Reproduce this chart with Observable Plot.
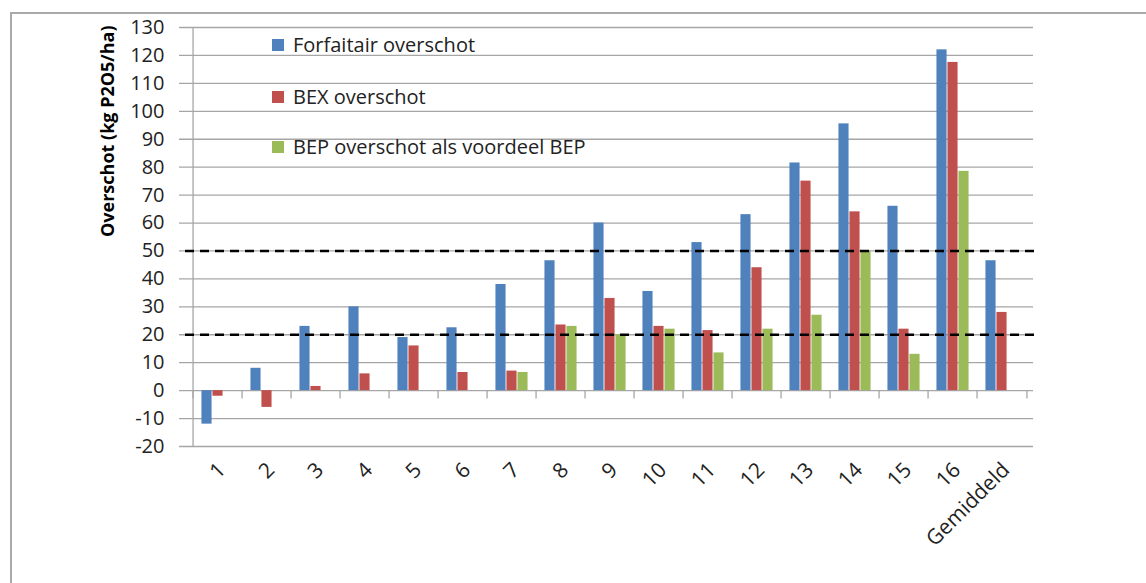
<!DOCTYPE html>
<html><head><meta charset="utf-8">
<script src="https://cdn.jsdelivr.net/npm/d3@7"></script>
<script src="https://cdn.jsdelivr.net/npm/@observablehq/plot@0.6"></script>
<style>
body{margin:0;background:#fff;}
#wrap{position:relative;width:1146px;height:583px;overflow:hidden;font-family:"Open Sans",sans-serif;background:#fff;}
#chart{position:absolute;left:0;top:0;}
#border{position:absolute;left:10px;top:12px;width:1200px;height:700px;border-left:2px solid #a9a9a9;border-top:2px solid #a9a9a9;pointer-events:none;}
.leg{position:absolute;left:272px;font-size:20px;line-height:24px;color:#222;display:flex;align-items:center;white-space:nowrap;}
.leg .sw{display:inline-block;width:12px;height:12px;margin-right:9px;}
</style></head><body>
<div id="wrap"><div id="chart"></div><div id="legend"></div><div id="border"></div></div>
<script>
// ---- data ----
const categories = ["1","2","3","4","5","6","7","8","9","10","11","12","13","14","15","16","Gemiddeld"];
const forfaitair = [-12, 8, 23, 30, 19, 22.5, 38, 46.5, 60, 35.5, 53, 63, 81.5, 95.5, 66, 122, 46.5];
const bex        = [-2, -6, 1.5, 6, 16, 6.5, 7, 23.5, 33, 23, 21.5, 44, 75, 64, 22, 117.5, 28];
const bep        = [null, null, null, null, null, null, 6.5, 23, 20, 22, 13.5, 22, 27, 50, 13, 78.5, null];
const seriesNames = ["Forfaitair overschot", "BEX overschot", "BEP overschot als voordeel BEP"];
const seriesColors = ["#4f81bd", "#c0504d", "#9bbb59"];
const thresholds = [20, 50];
const yTicks = [-20,-10,0,10,20,30,40,50,60,70,80,90,100,110,120,130];
const yTitle = "Overschot (kg P2O5/ha)";

// ---- layout ----
const W = 1146, H = 583, mL = 185, mR = 113, mT = 27, mB = 137;
const bw = (W - mL - mR) / categories.length;
const barW = 11;
const outer = (bw - 3 * barW) / 2;

const rows = categories.map((c, i) => ({cat: c, v0: forfaitair[i], v1: bex[i], v2: bep[i]}));
const grid = "#a6a6a6";

const barMarks = [0,1,2].map(i =>
  Plot.barY(rows.filter(d => d["v" + i] != null), {
    x: "cat", y: "v" + i, fill: seriesColors[i],
    insetLeft: outer + i * barW, insetRight: bw - outer - (i + 1) * barW
  })
);

const chart = Plot.plot({
  width: W, height: H,
  marginLeft: mL, marginRight: mR, marginTop: mT, marginBottom: mB,
  style: {fontFamily: "Open Sans, sans-serif", color: "#222", background: "transparent"},
  x: {domain: categories, padding: 0, label: null},
  y: {domain: [-20, 130], label: null},
  marks: [
    Plot.ruleY(yTicks, {stroke: grid, strokeWidth: 1.3, insetLeft: -6}),
    Plot.ruleX([categories[0]], {dx: -bw / 2, y1: -20, y2: 130, stroke: grid, strokeWidth: 1.3}),
    Plot.ruleX(categories, {dx: -bw / 2, y1: 0, y2: -3, stroke: grid, strokeWidth: 1.3}),
    Plot.ruleX([categories[categories.length - 1]], {dx: bw / 2, y1: 0, y2: -3, stroke: grid, strokeWidth: 1.3}),
    ...barMarks,
    Plot.ruleY(thresholds, {stroke: "#000", strokeWidth: 2.5, strokeDasharray: "9,6", insetRight: -7}),
    Plot.axisY({ticks: yTicks, tickFormat: d => String(d), tickSize: 0, tickPadding: 21, fontSize: 20, label: null}),
    Plot.axisX({tickSize: 0, tickPadding: 20, tickRotate: -45, textAnchor: "end", fontSize: 21, dx: 4, label: null}),
    Plot.text([yTitle], {frameAnchor: "left", dx: -77, rotate: -90, fontWeight: "bold", fontSize: 18, fill: "#000"})
  ]
});
document.getElementById("chart").appendChild(chart);

// ---- legend (inside plot area) ----
const legCenters = [45, 96.5, 146.5];
const leg = document.getElementById("legend");
seriesNames.forEach((name, i) => {
  const d = document.createElement("div");
  d.className = "leg";
  d.style.top = (legCenters[i] - 12) + "px";
  d.innerHTML = `<span class="sw" style="background:${seriesColors[i]}"></span><span>${name}</span>`;
  leg.appendChild(d);
});
</script>
</body></html>
